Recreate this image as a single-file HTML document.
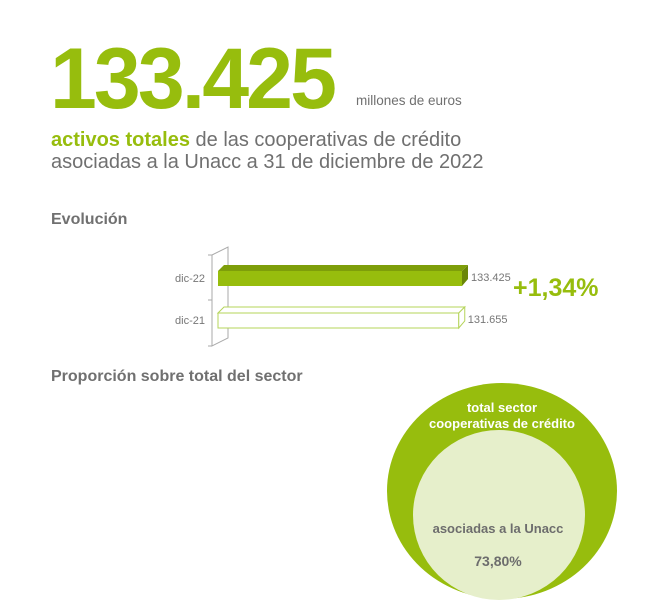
<!DOCTYPE html>
<html><head><meta charset="utf-8"><style>
html,body{margin:0;padding:0;background:#fff;}
svg{display:block;font-family:"Liberation Sans",Arial,sans-serif;}
</style></head><body>
<svg width="650" height="614" viewBox="0 0 650 614">
<text x="50" y="108" font-size="86" font-weight="bold" fill="#97bd0d" letter-spacing="-3" textLength="284" lengthAdjust="spacingAndGlyphs">133.425</text>
<text x="356" y="105" font-size="13.5" fill="#707070">millones de euros</text>
<text x="51" y="146" font-size="20" fill="#707070"><tspan fill="#97bd0d" font-weight="bold">activos totales</tspan> de las cooperativas de crédito</text>
<text x="51" y="168" font-size="20" fill="#707070">asociadas a la Unacc a 31 de diciembre de 2022</text>
<text x="51" y="224" font-size="16" font-weight="bold" fill="#707070">Evolución</text>
<g id="bars"></g>
<text x="513" y="296" font-size="25" font-weight="bold" fill="#97bd0d">+1,34%</text>
<text x="51" y="381" font-size="16" font-weight="bold" fill="#707070">Proporción sobre total del sector</text>
<ellipse cx="502" cy="491" rx="115" ry="108" fill="#97bd0d"/>
<ellipse cx="499" cy="515" rx="86" ry="85" fill="#e6efcb"/>
<text x="502" y="412" font-size="13" font-weight="bold" fill="#fff" text-anchor="middle">total sector</text>
<text x="502" y="428" font-size="13" font-weight="bold" fill="#fff" text-anchor="middle">cooperativas de crédito</text>
<text x="498" y="533" font-size="13" font-weight="bold" fill="#6d6d6d" text-anchor="middle">asociadas a la Unacc</text>
<text x="498" y="566" font-size="14" font-weight="bold" fill="#6d6d6d" text-anchor="middle">73,80%</text>
</svg>
<script>
const categories = ["dic-22", "dic-21"];
const values = [133425, 131655];
const valueLabels = ["133.425", "131.655"];
(function(){
  const ns = "http://www.w3.org/2000/svg";
  const g = document.getElementById("bars");
  const x0 = 218, maxW = 244;
  const xs = v => maxW * v / 133425;
  const rowY = [265, 307], h = 20, d = 6;
  function mk(tag, attrs){ const e=document.createElementNS(ns,tag); for(const k in attrs) e.setAttribute(k,attrs[k]); g.appendChild(e); return e; }
  // axis plane
  const ax = mk("path",{d:"M212 255 L228 247 L228 338 L212 346 Z M208 255 L212 255 M208 300 L212 300 M208 346 L212 346",fill:"none",stroke:"#aaa","stroke-width":1});
  
  
  categories.forEach((c,i)=>{
    const w = xs(values[i]), y = rowY[i];
    const filled = i===0;
    const front = mk("rect",{x:x0,y:y+d,width:w,height:h-d+1,fill:filled?"#97bd0d":"#fff",stroke:filled?"none":"#b5d45a"});
    
    
    const top = mk("path",{d:`M${x0} ${y+d} L${x0+d} ${y} L${x0+w+d} ${y} L${x0+w} ${y+d} Z`,fill:filled?"#7e9e0a":"#fff",stroke:filled?"none":"#b5d45a"});
    
    
    const side = mk("path",{d:`M${x0+w} ${y+d} L${x0+w+d} ${y} L${x0+w+d} ${y+h-d} L${x0+w} ${y+h+1} Z`,fill:filled?"#6a8608":"#fff",stroke:filled?"none":"#b5d45a"});
    
    
    const lab = mk("text",{x:205,y:y+h/2+7,"font-size":11,fill:"#777","text-anchor":"end"});
    lab.textContent = c;
    
    
    const vl = mk("text",{x:x0+w+d+3,y:y+h/2+6,"font-size":11,fill:"#777"});
    vl.textContent = valueLabels[i];
    
    
  });
})();
</script>
</body></html>
